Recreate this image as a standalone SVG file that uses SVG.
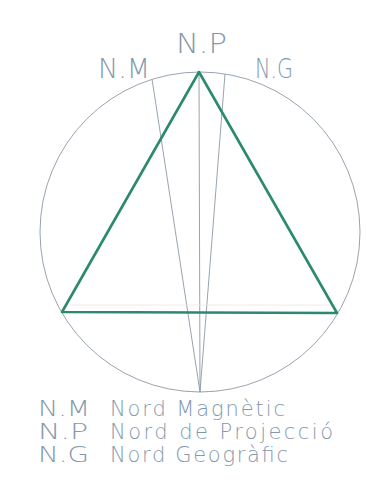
<svg xmlns="http://www.w3.org/2000/svg" width="366" height="500" viewBox="0 0 366 500">
<style>
.t{font-family:"DejaVu Sans","Liberation Sans",sans-serif;fill:#8499ad;font-weight:200}
.thin{fill:none;stroke:#8d99a6;stroke-width:0.9}
</style>
<rect width="366" height="500" fill="#ffffff"/>
<g id="circle"><circle cx="200" cy="232" r="160" class="thin"/></g>
<g id="connectors">
<line x1="152" y1="79" x2="200" y2="392" class="thin"/>
<line x1="199" y1="72" x2="200" y2="392" class="thin"/>
<line x1="225" y1="74" x2="200" y2="392" class="thin"/>
<line x1="70" y1="305" x2="330" y2="305" stroke="#ece6de" stroke-width="0.8"/>
</g>
<g id="triangle"><polygon points="199,72 62,312 337,313" fill="none" stroke="#2b8a6e" stroke-width="2.6" stroke-linejoin="round"/></g>
<g id="labels">
<text class="t" x="176" y="53" font-size="27" textLength="51" lengthAdjust="spacingAndGlyphs">N.P</text>
<text class="t" x="98" y="78" font-size="27" textLength="52" lengthAdjust="spacingAndGlyphs">N.M</text>
<text class="t" x="255" y="78" font-size="27" textLength="38" lengthAdjust="spacingAndGlyphs">N.G</text>
</g>
<g id="legend">
<text class="t" x="38" y="416" font-size="21" textLength="52" lengthAdjust="spacingAndGlyphs">N.M</text>
<text class="t" x="110" y="416" font-size="21" textLength="175" lengthAdjust="spacing">Nord Magnètic</text>
<text class="t" x="38" y="439" font-size="21" textLength="50" lengthAdjust="spacingAndGlyphs">N.P</text>
<text class="t" x="110" y="439" font-size="21" textLength="223" lengthAdjust="spacing">Nord de Projecció</text>
<text class="t" x="38" y="462" font-size="21" textLength="51" lengthAdjust="spacingAndGlyphs">N.G</text>
<text class="t" x="110" y="462" font-size="21" textLength="178" lengthAdjust="spacing">Nord Geogràfic</text>
</g>
</svg>
